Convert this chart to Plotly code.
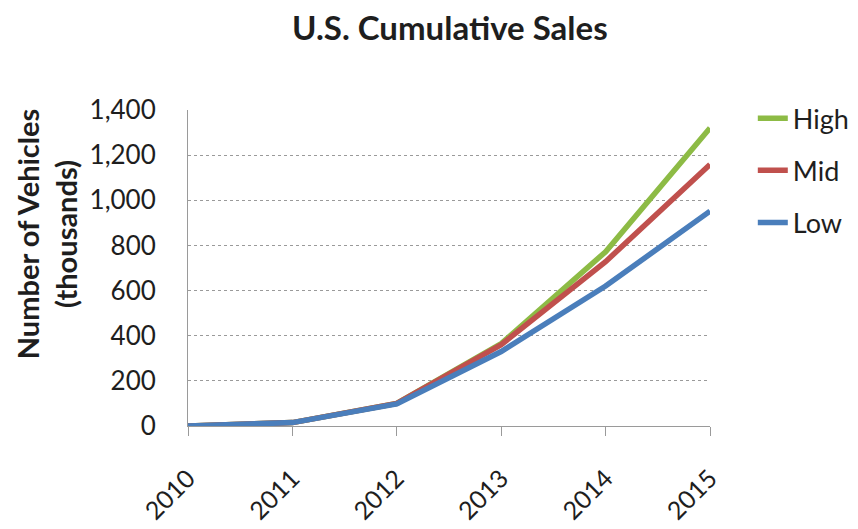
import plotly.graph_objects as go

years = [2010, 2011, 2012, 2013, 2014, 2015]
year_labels = ["2010", "2011", "2012", "2013", "2014", "2015"]
high = [0, 15, 100, 365, 772, 1320]
mid = [0, 15, 100, 360, 728, 1158]
low = [0, 15, 98, 330, 620, 952]
y_ticks = [0, 200, 400, 600, 800, 1000, 1200, 1400]
y_tick_labels = ["0", "200", "400", "600", "800", "1,000", "1,200", "1,400"]

series = [("High", high, "#8DBB45"), ("Mid", mid, "#C0504D"), ("Low", low, "#4A7EBB")]

fig = go.Figure()
for name, vals, color in series:
    fig.add_trace(go.Scatter(
        x=years, y=vals, mode="lines", name=name,
        line=dict(color=color, width=5.5),
        legendgroup=name,
    ))

font_family = "Lato, 'Open Sans', sans-serif"
text_color = "#1e1e1e"

fig.update_layout(
    width=858, height=529,
    paper_bgcolor="white", plot_bgcolor="white",
    margin=dict(l=180, r=153, t=102, b=109),
    title=dict(text="<b>U.S. Cumulative Sales</b>", x=0.515, xanchor="center",
               y=0.962, yanchor="middle",
               font=dict(family=font_family, size=33, color=text_color)),
    font=dict(family=font_family, size=25, color=text_color),
    showlegend=True,
    legend=dict(x=1.082, y=1.05, xanchor="left", yanchor="top",
                font=dict(size=27, color=text_color),
                tracegroupgap=14, bgcolor="rgba(0,0,0,0)"),
    xaxis=dict(
        range=[2010, 2015], tickmode="array", tickvals=years, ticktext=year_labels,
        tickangle=-45, showgrid=False, zeroline=False,
        showline=True, linecolor="#9a9a9a", linewidth=1,
        ticks="outside", ticklen=9, tickcolor="#9a9a9a",
        ticklabelstandoff=18,
        tickfont=dict(size=25, color=text_color),
    ),
    yaxis=dict(
        range=[0, 1400], tickmode="array", tickvals=y_ticks, ticktext=y_tick_labels,
        showgrid=True, gridcolor="#9a9a9a", griddash="dot", gridwidth=1,
        zeroline=False, showline=True, linecolor="#9a9a9a", linewidth=1,
        ticks="", ticklabelstandoff=26,
        tickfont=dict(size=26, color=text_color),
    ),
    annotations=[dict(
        text="<b>Number of Vehicles<br>(thousands)</b>",
        xref="paper", yref="paper", x=-0.272, y=0.607,
        xanchor="center", yanchor="middle", textangle=-90, showarrow=False,
        font=dict(family=font_family, size=29, color=text_color),
    )],
)

fig.write_html("out.html")
